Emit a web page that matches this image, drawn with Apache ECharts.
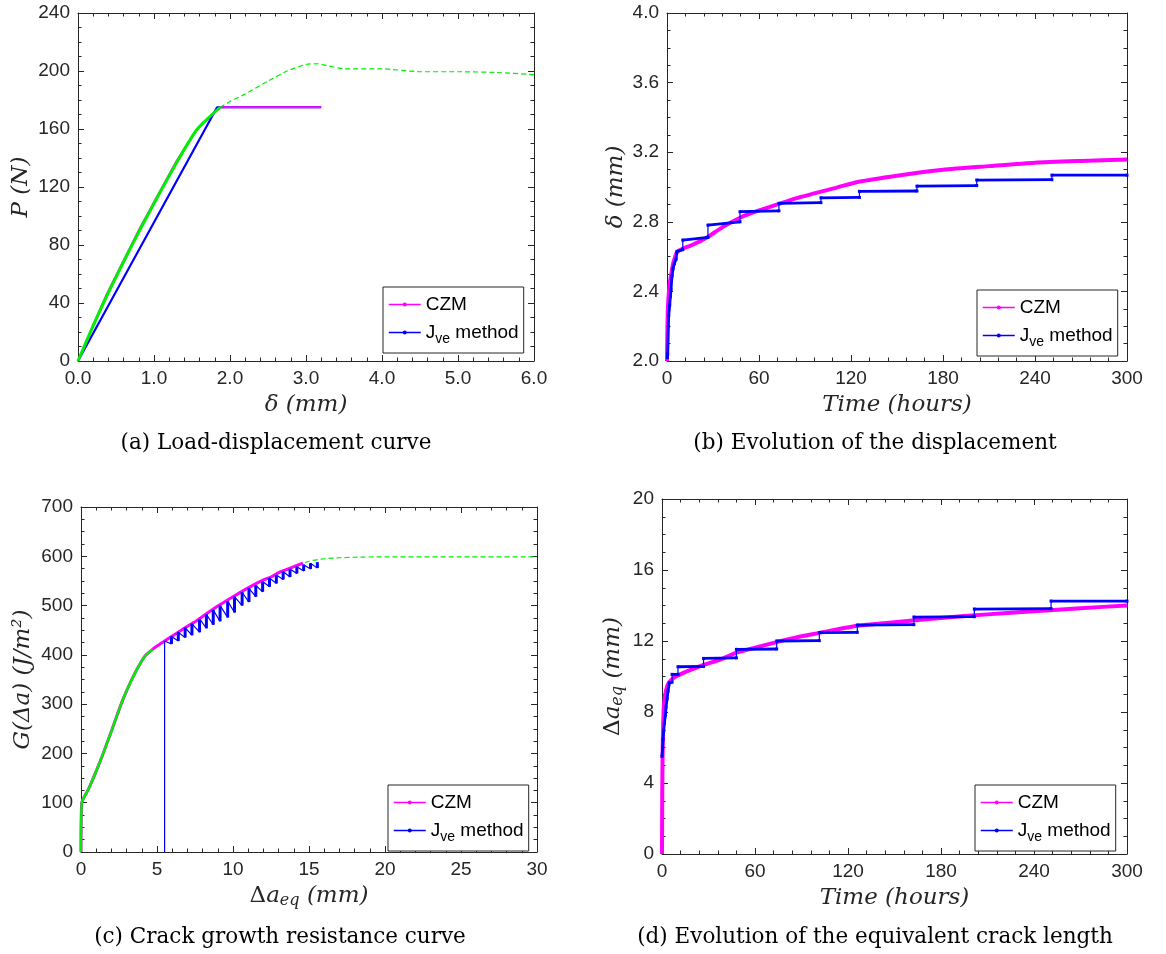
<!DOCTYPE html>
<html>
<head>
<meta charset="utf-8">
<script src="https://cdn.jsdelivr.net/npm/echarts@6/dist/echarts.min.js"></script>
<style>
html,body{margin:0;padding:0;background:#fff;}
#c{width:1166px;height:954px;}
</style>
</head>
<body>
<div id="c"></div>
<script>
// ---------- Panel (a): load-displacement ----------
const aCzmX = [0, 0.18, 0.38, 0.82, 1.30, 1.57, 1.87, 2.2, 2.6, 3.0, 3.2];
const aCzmY = [0, 22, 46, 92, 138, 160, 175, 175, 175, 175, 175];
const aJveX = [0, 1.83, 2.2, 2.6, 3.0, 3.2];
const aJveY = [0, 175, 175, 175, 175, 175];
const aRefSolidX = [0, 0.18, 0.38, 0.82, 1.30, 1.57, 1.87];
const aRefSolidY = [0, 22, 45, 91, 137, 160, 175];
const aRefDashX = [1.87, 2.0, 2.16, 2.5, 2.75, 3.0, 3.15, 3.3, 3.5, 4.0, 4.5, 5.0, 5.5, 6.0];
const aRefDashY = [175, 179, 183, 193, 200, 204.5, 205, 203.5, 201.5, 201.5, 199.5, 199.5, 199, 197.5];

// ---------- Panel (b): displacement vs time ----------
const bCzmT = [0, 0.2, 0.5, 1, 2, 3, 4, 5, 6.5, 10, 16, 26, 36, 48, 60, 72, 84, 96, 110, 125, 150, 180, 210, 240, 270, 300];
const bCzmD = [2.0, 2.15, 2.28, 2.37, 2.46, 2.51, 2.56, 2.59, 2.625, 2.645, 2.665, 2.71, 2.768, 2.825, 2.865, 2.90, 2.935, 2.963, 2.995, 3.03, 3.065, 3.099, 3.12, 3.14, 3.15, 3.158];
const bJveT = [0.2, 0.44, 0.87, 1.1, 1.75, 2.2, 2.6, 3.3, 3.9, 4.8, 5.9, 6.5, 10.3, 10.3, 26.7, 26.7, 47.6, 47.6, 73, 73, 100.4, 100.4, 125.5, 125.5, 163, 163, 202, 202, 251, 251, 300];
const bJveD = [2.02, 2.04, 2.20, 2.26, 2.32, 2.37, 2.41, 2.49, 2.53, 2.56, 2.585, 2.63, 2.64, 2.695, 2.71, 2.781, 2.80, 2.858, 2.863, 2.906, 2.91, 2.938, 2.94, 2.975, 2.977, 3.005, 3.008, 3.04, 3.042, 3.068, 3.068];

// ---------- Panel (c): crack growth resistance ----------
const cCzmA = [0, 0.05, 0.5, 1.0, 1.46, 2.0, 2.64, 3.0, 3.5, 4.0, 4.28, 4.7, 5.0, 5.5, 6.0, 7.0, 7.5, 8.0, 9.0, 10.0, 11.0, 12.0, 12.5, 13.0, 14.0, 14.6];
const cCzmG = [0, 100, 128, 164, 200, 245, 300, 327, 360, 388, 400, 411, 418, 428, 438, 458, 467, 478, 499, 518, 536, 552, 558, 567, 579, 586];
const cRefSolidA = [0, 0.05, 0.5, 1.0, 1.46, 2.0, 2.64, 3.0, 3.5, 4.0, 4.28, 4.7];
const cRefSolidG = [0, 100, 128, 164, 200, 245, 300, 327, 360, 388, 400, 411];
const cRefDashA = [4.7, 5.5, 7, 8, 10, 12, 14, 15, 16, 17, 18, 20, 25, 30];
const cRefDashG = [411, 428, 457, 477, 517, 551, 578, 590, 595, 597, 598, 599, 599, 599];
const cJveStartA = [5.5, 5.5];
const cJveStartG = [0, 428];
const cToothA = [5.95, 6.4, 6.85, 7.3, 7.8, 8.25, 8.7, 9.15, 9.65, 10.1, 10.6, 11.05, 11.5, 11.95, 12.4, 12.85, 13.3, 13.75, 14.2, 14.65, 15.1, 15.55];
const cToothTop = [437, 446, 455, 463, 473, 482, 491, 500, 509, 518, 527, 535, 541, 549, 556, 562, 569, 574, 579, 583, 586, 588];
const cToothBottom = [422, 428, 435, 440, 446, 454, 461, 468, 476, 486, 500, 507, 518, 528, 538, 545, 553, 558, 565, 570, 574, 576];

// ---------- Panel (d): equivalent crack length vs time ----------
const dCzmT = [0, 0.1, 0.25, 0.5, 1.0, 1.5, 2.2, 3.0, 4.4, 7.6, 10, 16.4, 26, 38, 48, 60, 74, 86, 100, 125, 150, 180, 210, 240, 270, 300];
const dCzmA = [0, 2.5, 4.5, 6.3, 8.0, 8.6, 9.05, 9.35, 9.65, 9.93, 10.05, 10.3, 10.63, 10.97, 11.34, 11.62, 11.94, 12.19, 12.43, 12.85, 13.06, 13.3, 13.5, 13.68, 13.85, 14.0];
const dJveT = [0, 0.44, 0.65, 1.1, 1.5, 2.2, 2.6, 3.3, 3.9, 4.8, 6.5, 6.5, 10.3, 10.3, 26.8, 26.8, 48, 48, 74, 74, 101.5, 101.5, 126, 126, 162.5, 162.5, 201.5, 201.5, 251, 251, 300];
const dJveA = [5.5, 5.99, 6.46, 6.93, 7.36, 7.81, 8.28, 8.75, 9.18, 9.65, 9.68, 10.12, 10.12, 10.55, 10.57, 11.02, 11.05, 11.53, 11.55, 12.0, 12.02, 12.47, 12.49, 12.9, 12.92, 13.35, 13.37, 13.8, 13.82, 14.25, 14.25];

// ---------- text ----------
const captions = ['(a) Load-displacement curve', '(b) Evolution of the displacement', '(c) Crack growth resistance curve', '(d) Evolution of the equivalent crack length'];
const legendNames = ['CZM', 'J_ve method'];

const MAG = '#ff00ff', BLU = '#0000ff', GRN = '#00ee00', AX = '#262626';

function zip(xs, ys) { return xs.map((x, i) => [x, ys[i]]); }
// segments where x advances (horizontal-ish parts) -> thick overlay
function advancing(xs, ys) {
  const out = [];
  let open = false;
  for (let i = 0; i < xs.length - 1; i++) {
    if (xs[i + 1] > xs[i]) {
      if (!open) out.push([xs[i], ys[i]]);
      out.push([xs[i + 1], ys[i + 1]]);
      open = true;
    } else if (open) {
      out.push([xs[i], null]);
      open = false;
    }
  }
  return out;
}
function sawPath() {
  const pts = zip(cJveStartA, cJveStartG);
  cToothA.forEach((a, i) => { pts.push([a, cToothBottom[i]]); pts.push([a, cToothTop[i]]); });
  return pts;
}
function sawBars() {
  const pts = [];
  cToothA.forEach((a, i) => { pts.push([a, cToothBottom[i]]); pts.push([a, cToothTop[i]]); pts.push([a, null]); });
  return pts;
}

const grids = [
  { left: 78, top: 13, width: 456, height: 348 },
  { left: 667, top: 13, width: 460, height: 348 },
  { left: 81, top: 507, width: 456, height: 345 },
  { left: 662, top: 499, width: 465, height: 355 }
];

const nameStyle = { fontFamily: 'DejaVu Serif', fontStyle: 'italic', fontSize: 23, color: AX,
  rich: {
    i: { fontFamily: 'DejaVu Serif', fontStyle: 'italic', fontSize: 23, color: AX },
    u: { fontFamily: 'DejaVu Serif', fontStyle: 'normal', fontSize: 23, color: AX },
    sub: { fontFamily: 'DejaVu Serif', fontStyle: 'italic', fontSize: 16, color: AX, padding: [10, 0, 0, 0] }
  } };

function axis(o) {
  return {
    type: 'value', gridIndex: o.g, position: o.pos, min: o.min, max: o.max, interval: o.iv,
    splitLine: { show: false },
    axisLine: { show: true, onZero: false, lineStyle: { color: AX, width: 1 } },
    axisTick: { show: true, inside: true, length: 6, lineStyle: { color: AX } },
    minorTick: { show: true, splitNumber: o.minor, length: 3.5, lineStyle: { color: AX } },
    axisLabel: { show: !!o.labels, color: AX, fontSize: 19, fontFamily: 'Liberation Sans', margin: 8,
      formatter: o.fmt || (v => String(v)), showMinLabel: true, showMaxLabel: true },
    name: o.name || '', nameLocation: 'middle', nameGap: o.gap || 30, nameTextStyle: nameStyle
  };
}
const f1 = v => v.toFixed(1);
const xAxes = [], yAxes = [];
function addAxes(g, xo, yo) {
  xAxes.push(axis(Object.assign({ g: g, pos: 'bottom', labels: true }, xo)));
  xAxes.push(axis(Object.assign({}, xo, { g: g, pos: 'top', labels: false, name: '' })));
  yAxes.push(axis(Object.assign({ g: g, pos: 'left', labels: true }, yo)));
  yAxes.push(axis(Object.assign({}, yo, { g: g, pos: 'right', labels: false, name: '' })));
}
addAxes(0, { min: 0, max: 6, iv: 1, minor: 5, fmt: f1, name: 'δ (mm)', gap: 33 },
           { min: 0, max: 240, iv: 40, minor: 4, name: 'P (N)', gap: 45 });
addAxes(1, { min: 0, max: 300, iv: 60, minor: 5, name: 'Time (hours)', gap: 33 },
           { min: 2, max: 4, iv: 0.4, minor: 4, fmt: f1, name: 'δ (mm)', gap: 39 });
addAxes(2, { min: 0, max: 30, iv: 5, minor: 5, name: '{u|Δ}{i|a}{sub|eq}{i| (mm)}', gap: 31 },
           { min: 0, max: 700, iv: 100, minor: 4, name: 'G(Δa) (J/m²)', gap: 46 });
addAxes(3, { min: 0, max: 300, iv: 60, minor: 5, name: 'Time (hours)', gap: 33 },
           { min: 0, max: 20, iv: 4, minor: 4, name: '{u|Δ}{i|a}{sub|eq}{i| (mm)}', gap: 36 });

function line(name, g, data, color, width, extra) {
  return Object.assign({
    type: 'line', name: name, xAxisIndex: g * 2, yAxisIndex: g * 2, data: data,
    symbol: 'circle', symbolSize: 3, showSymbol: false, animation: false,
    lineStyle: { color: color, width: width }, itemStyle: { color: color },
    connectNulls: false, silent: true
  }, extra || {});
}
const SM = { smooth: 0.2 };
const series = [
  // (a)
  line(legendNames[1], 0, zip(aJveX, aJveY), BLU, 2.2),
  line(legendNames[0], 0, zip(aCzmX, aCzmY), MAG, 2.2),
  line('ref_a_dash', 0, zip(aRefDashX, aRefDashY), GRN, 1.2, Object.assign({ lineStyle: { color: GRN, width: 1.2, type: [5, 3] } }, SM)),
  line('ref_a', 0, zip(aRefSolidX, aRefSolidY), GRN, 3, SM),
  // (b)
  line(legendNames[0], 1, zip(bCzmT, bCzmD), MAG, 4, SM),
  line(legendNames[1], 1, zip(bJveT, bJveD), BLU, 1.2, { showSymbol: true, symbol: 'rect', symbolSize: 3 }),
  line('jve_b_thick', 1, advancing(bJveT, bJveD), BLU, 2.8),
  // (c)
  line('ref_c_dash', 2, zip(cRefDashA, cRefDashG), GRN, 1.2, Object.assign({ lineStyle: { color: GRN, width: 1.2, type: [5, 3] } }, SM)),
  line(legendNames[0], 2, zip(cCzmA, cCzmG), MAG, 3, SM),
  line('ref_c', 2, zip(cRefSolidA, cRefSolidG), GRN, 2.5, SM),
  line(legendNames[1], 2, sawPath(), BLU, 1.2),
  line('jve_c_bars', 2, sawBars(), BLU, 3),
  // (d)
  line(legendNames[0], 3, zip(dCzmT, dCzmA), MAG, 4, SM),
  line(legendNames[1], 3, zip(dJveT, dJveA), BLU, 1.2, { showSymbol: true, symbol: 'rect', symbolSize: 3 }),
  line('jve_d_thick', 3, advancing(dJveT, dJveA), BLU, 2.8)
];

const legendPos = [[383, 287], [977, 290], [388, 785], [975, 785]];
const legends = legendPos.map(p => ({
  left: p[0], top: p[1], orient: 'vertical', selectedMode: false,
  data: legendNames.map(n => ({ name: n })),
  backgroundColor: '#fff', borderColor: AX, borderWidth: 1, padding: [8, 5, 7, 5],
  itemWidth: 32, itemHeight: 5, itemGap: 9,
  lineStyle: { width: 1.5 },
  textStyle: { fontFamily: 'Liberation Sans', fontSize: 19, color: '#000',
    rich: {
      n: { fontFamily: 'Liberation Sans', fontSize: 19, color: '#000', height: 22 },
      s: { fontFamily: 'Liberation Sans', fontSize: 14, color: '#000', padding: [13, 0, 0, 0] }
    } },
  formatter: n => n === 'CZM' ? '{n|CZM}' : '{n|J}{s|ve}{n| method}'
}));

const capPos = [[276, 443], [875, 443], [280, 937], [875, 937]];
const graphic = captions.map((t, i) => ({
  type: 'text', x: capPos[i][0], y: capPos[i][1], silent: true,
  style: { text: t, fill: '#000', font: '21.5px "DejaVu Serif"', textAlign: 'center', textVerticalAlign: 'middle' }
}));

const chart = echarts.init(document.getElementById('c'), null, { renderer: 'canvas' });
chart.setOption({
  backgroundColor: '#fff',
  animation: false,
  grid: grids,
  xAxis: xAxes,
  yAxis: yAxes,
  legend: legends,
  series: series,
  graphic: graphic
});
</script>
</body>
</html>
